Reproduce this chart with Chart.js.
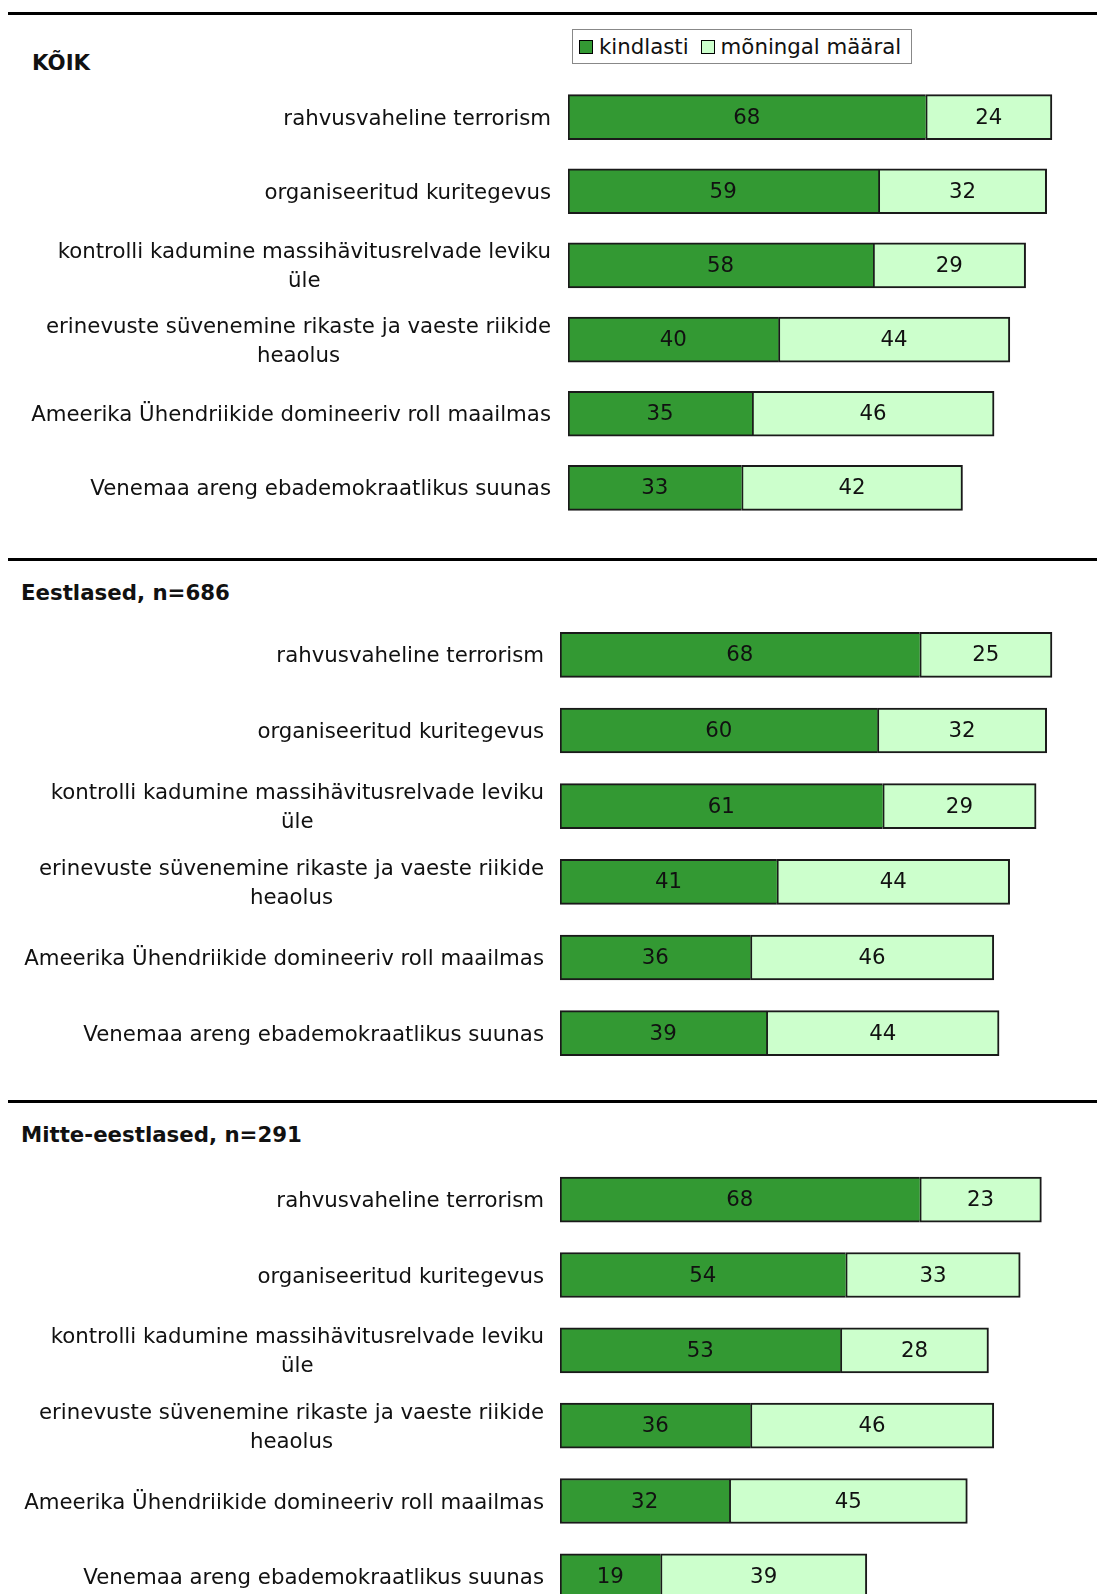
<!DOCTYPE html>
<html>
<head>
<meta charset="utf-8">
<script src="https://cdn.jsdelivr.net/npm/chart.js@4"></script>
<style>
  body { margin: 0; width: 1097px; height: 1594px; overflow: hidden; background: #fff; position: relative;
         font-family: "DejaVu Sans", Verdana, sans-serif; color: #111; }
  .rule { position: absolute; left: 8px; right: 0; height: 3px; background: #000; }
  .head { position: absolute; font-weight: bold; font-size: 21.3px; line-height: 1; }
  .panel { position: absolute; left: 0; }
  .legend { position: absolute; left: 572px; top: 29px; width: 338px; height: 33px; border: 1px solid #888;
            font-size: 21.3px; display: flex; align-items: center; }
  .sw { display: inline-block; width: 12px; height: 12px; border: 1.5px solid #000; margin: 0 6px 0 7px; }
</style>
</head>
<body>
<script>
// categories and values
const categories = [
  "rahvusvaheline terrorism",
  "organiseeritud kuritegevus",
  ["kontrolli kadumine massihävitusrelvade leviku", "üle"],
  ["erinevuste süvenemine rikaste ja vaeste riikide", "heaolus"],
  "Ameerika Ühendriikide domineeriv roll maailmas",
  "Venemaa areng ebademokraatlikus suunas"
];
const seriesNames = ["kindlasti", "mõningal määral"];
const panelTitles = ["KÕIK", "Eestlased, n=686", "Mitte-eestlased, n=291"];

const koikKindlasti = [68, 59, 58, 40, 35, 33];
const koikMoningal  = [24, 32, 29, 44, 46, 42];
const eestKindlasti = [68, 60, 61, 41, 36, 39];
const eestMoningal  = [25, 32, 29, 44, 46, 44];
const mitteKindlasti = [68, 54, 53, 36, 32, 19];
const mitteMoningal  = [23, 33, 28, 46, 45, 39];

const colors = ["#339933", "#CCFFCC"];
const FONT = '"DejaVu Sans", Verdana, sans-serif';
const FONT_SIZE = 21.3;

// numbers in the middle of each segment
const valueLabels = {
  id: 'valueLabels',
  afterDatasetsDraw(chart) {
    const ctx = chart.ctx;
    ctx.save();
    ctx.font = FONT_SIZE + 'px ' + FONT;
    ctx.fillStyle = '#111';
    ctx.textAlign = 'center';
    ctx.textBaseline = 'middle';
    chart.data.datasets.forEach((ds, i) => {
      chart.getDatasetMeta(i).data.forEach((bar, j) => {
        const p = bar.getProps(['x', 'y', 'base'], true);
        ctx.fillText(ds.data[j], (p.x + p.base) / 2, p.y + 1);
      });
    });
    ctx.restore();
  }
};

// category labels: right aligned block, lines centred inside it
const categoryLabels = {
  id: 'categoryLabels',
  afterDraw(chart, args, opts) {
    const ctx = chart.ctx, y = chart.scales.y;
    ctx.save();
    ctx.font = FONT_SIZE + 'px ' + FONT;
    ctx.fillStyle = '#111';
    ctx.textAlign = 'center';
    ctx.textBaseline = 'middle';
    chart.data.labels.forEach((lab, i) => {
      const lines = Array.isArray(lab) ? lab : [lab];
      const w = Math.max(...lines.map(l => ctx.measureText(l).width));
      const cx = opts.right - w / 2;
      const yc = y.getPixelForValue(i);
      lines.forEach((l, k) => ctx.fillText(l, cx, yc + 2 + (k - (lines.length - 1) / 2) * 29));
    });
    ctx.restore();
  }
};

function addPanel(cfg) {
  const rule = document.createElement('div');
  rule.className = 'rule';
  rule.style.top = cfg.rule + 'px';
  document.body.appendChild(rule);

  const head = document.createElement('div');
  head.className = 'head';
  head.textContent = cfg.title;
  head.style.left = cfg.titleX + 'px';
  head.style.top = cfg.titleY + 'px';
  document.body.appendChild(head);

  const wrap = document.createElement('div');
  wrap.className = 'panel';
  wrap.style.top = cfg.top + 'px';
  const canvas = document.createElement('canvas');
  canvas.width = 1097;
  canvas.height = cfg.height;
  wrap.appendChild(canvas);
  document.body.appendChild(wrap);

  new Chart(canvas, {
    type: 'bar',
    data: {
      labels: categories,
      datasets: [{
        label: seriesNames[0],
        data: cfg.a,
        backgroundColor: colors[0],
        borderColor: '#1a1a1a',
        borderWidth: { left: 2, top: 2, bottom: 2, right: 0 },
        borderSkipped: false,
        barThickness: 45
      }, {
        label: seriesNames[1],
        data: cfg.b,
        backgroundColor: colors[1],
        borderColor: '#1a1a1a',
        borderWidth: { left: 2, top: 2, bottom: 2, right: 2 },
        borderSkipped: false,
        barThickness: 45
      }]
    },
    options: {
      indexAxis: 'y',
      responsive: false,
      animation: false,
      layout: { padding: { left: 0, right: cfg.padRight, top: 0, bottom: 0 } },
      plugins: {
        legend: { display: false },
        tooltip: { enabled: false },
        categoryLabels: { right: cfg.labelRight }
      },
      scales: {
        x: { stacked: true, min: 0, max: 100, display: false },
        y: {
          stacked: true,
          grid: { display: false },
          border: { display: false },
          ticks: { display: false },
          afterFit(scale) { scale.width = cfg.barLeft; }
        }
      }
    },
    plugins: [valueLabels, categoryLabels]
  });
}

addPanel({ rule: 12, title: panelTitles[0], titleX: 32, titleY: 52, top: 80, height: 445,
           a: koikKindlasti, b: koikMoningal, barLeft: 568, padRight: 3, labelRight: 551 });
addPanel({ rule: 558, title: panelTitles[1], titleX: 21, titleY: 582, top: 617, height: 454,
           a: eestKindlasti, b: eestMoningal, barLeft: 560, padRight: 8, labelRight: 544 });
addPanel({ rule: 1100, title: panelTitles[2], titleX: 21, titleY: 1124, top: 1162, height: 452,
           a: mitteKindlasti, b: mitteMoningal, barLeft: 560, padRight: 8, labelRight: 544 });

// legend box
const legend = document.createElement('div');
legend.className = 'legend';
seriesNames.forEach((name, i) => {
  const sw = document.createElement('span');
  sw.className = 'sw';
  sw.style.background = colors[i];
  sw.style.marginLeft = i === 0 ? '6px' : '12px';
  legend.appendChild(sw);
  const t = document.createElement('span');
  t.textContent = name;
  legend.appendChild(t);
});
document.body.appendChild(legend);
</script>
</body>
</html>
